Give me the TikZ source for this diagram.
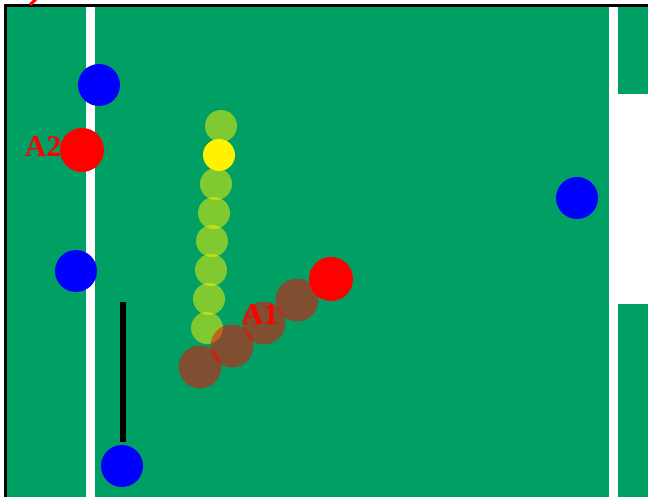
\documentclass[tikz,border=0pt]{standalone}
\usepackage{fontspec}
\setmainfont{Liberation Serif}
\definecolor{field}{RGB}{0,160,100}
\begin{document}
\begin{tikzpicture}[x=1pt,y=-1pt,
  blueplayer/.style={circle,fill=blue,minimum size=42pt,inner sep=0pt},
  redplayer/.style={circle,fill=red,minimum size=44pt,inner sep=0pt},
  trail/.style={circle,fill=red,fill opacity=0.5,minimum size=43pt,inner sep=0pt},
  balltrail/.style={circle,fill=yellow,fill opacity=0.5,minimum size=32pt,inner sep=0pt},
  ball/.style={circle,fill=yellow,minimum size=32pt,inner sep=0pt},
  plabel/.style={text=red,font=\bfseries\fontsize{30}{30}\selectfont,inner sep=0pt},
  fieldline/.style={white,line width=9pt}]
\useasboundingbox (0,0) rectangle (648,497);
% field
\fill[field] (5.5,6) rectangle (648,497);
\draw[line width=3pt] (5.5,497) -- (5.5,6) -- (648,6);
% white lines
\draw[fieldline] (90.5,7.5) -- (90.5,497);
\draw[fieldline] (613.5,7.5) -- (613.5,497);
\fill[white] (613,94) rectangle (648,304);
% cut-off red mark at top
\draw[red,line width=3pt] (30,5) -- (36,-1);
% black bar
\coordinate (bt) at (123,302);
\coordinate (bb) at (123,442);
\draw[line width=6.5pt] (bt) -- (bb);
% blue players
\node[blueplayer] (b1) at (99,85) {};
\node[blueplayer] (b2) at (76,271) {};
\node[blueplayer] (b3) at (122,466) {};
\node[blueplayer] (b4) at (577,198) {};
% ball trail
\node[balltrail] (y1) at (221,126) {};
\node[balltrail] (y3) at (216,184) {};
\node[balltrail] (y4) at (214,213) {};
\node[balltrail] (y5) at (212,241) {};
\node[balltrail] (y6) at (211,270) {};
\node[balltrail] (y7) at (209,299) {};
\node[balltrail] (y8) at (207,328) {};
\node[ball] (y2) at (219,155) {};
% player trail
\node[trail] (t1) at (200,367) {};
\node[trail] (t2) at (232,346) {};
\node[trail] (t3) at (264,323) {};
\node[trail] (t4) at (297,300) {};
\node[redplayer] (a1) at (331,279) {};
\node[plabel] (a1l) at (260,315) {A1};
% A2
\node[redplayer] (a2) at (82,150) {};
\node[plabel] (a2l) at (43,147) {A2};
\end{tikzpicture}
\end{document}
